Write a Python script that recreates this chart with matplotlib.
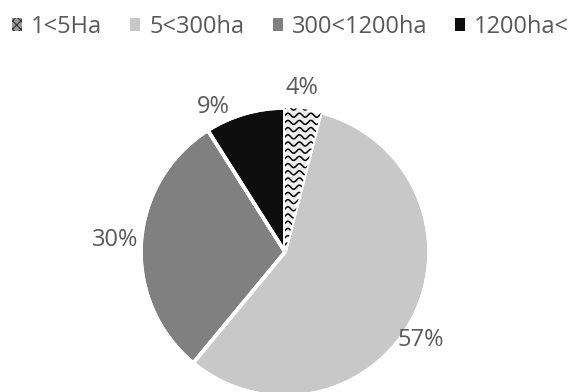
import matplotlib.pyplot as plt
from matplotlib.patches import Rectangle
import numpy as np

# farm size shares
categories = ["1<5Ha", "5<300ha", "300<1200ha", "1200ha<"]
shares = [4, 57, 30, 9]
labels = ["4%", "57%", "30%", "9%"]

colors = ["#ebebeb", "#c8c8c8", "#808080", "#0d0d0d"]
# label spots in pie units (radius = 1)
label_pos = [(0.12, 1.14), (0.94, -0.61), (-1.18, 0.08), (-0.50, 1.01)]

plt.rcParams["font.family"] = ["Open Sans", "DejaVu Sans"]
plt.rcParams["hatch.linewidth"] = 0.8

fig = plt.figure(figsize=(5.73, 3.92), dpi=100)
W, H = 573, 392
cx, cy, r = 285, 252, 144
ax = fig.add_axes([(cx - r) / W, (H - cy - r) / H, 2 * r / W, 2 * r / H])

wedges, _ = ax.pie(shares, colors=colors, startangle=90, counterclock=False,
                   wedgeprops=dict(edgecolor="white", linewidth=2.5))
ax.set_xlim(-1, 1)
ax.set_ylim(-1, 1)

# wavy pattern in the first wedge
w0 = wedges[0]
w0.set_hatch("....")
xs = np.linspace(-0.2, 0.3, 200)
for y0 in np.arange(0.0, 1.05, 0.05):
	ln, = ax.plot(xs, y0 + 0.014 * np.sin(xs * 2 * np.pi / 0.08), color="black", lw=1.1)
	ln.set_clip_path(w0)
# white borders on top
ax.pie(shares, colors=["white"] * 4, startangle=90, counterclock=False,
       wedgeprops=dict(edgecolor="white", linewidth=2.5, fill=False))
ax.set_xlim(-1, 1)
ax.set_ylim(-1, 1)

for (x, y), t in zip(label_pos, labels):
	ax.text(x, y, t, ha="center", va="center", fontsize=17, color="#595959", clip_on=False)

# legend squares without the white wedge border
handles = [Rectangle((0, 0), 1, 1, facecolor=c, edgecolor="none") for c in colors]
handles[0].set_facecolor("#9a9a9a")
handles[0].set_hatch("xxxx")
handles[0].set_edgecolor("#333333")
handles[0].set_linewidth(0)

fig.legend(handles, categories, loc="upper left", bbox_to_anchor=(0.021, 0.962), ncol=4,
           frameon=False, fontsize=17, labelcolor="#595959", handlelength=0.42,
           handleheight=0.42, handletextpad=0.38, columnspacing=1.2,
           borderpad=0, borderaxespad=0)

fig.savefig("out.png", dpi=100)
